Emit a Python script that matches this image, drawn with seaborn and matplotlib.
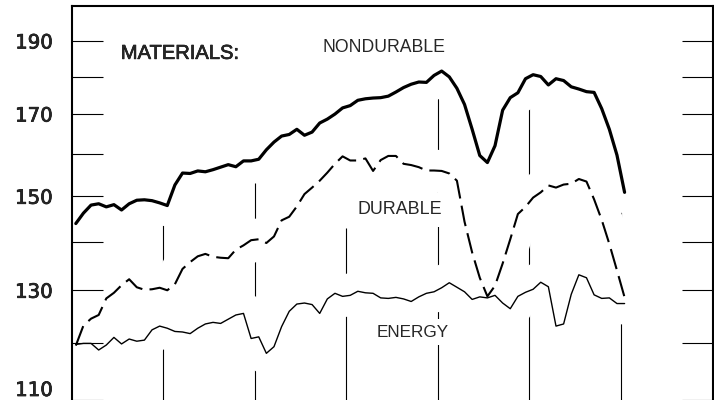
import numpy as np
import pandas as pd
import matplotlib
matplotlib.use("Agg")
import matplotlib.pyplot as plt
import matplotlib.patheffects as pe
from matplotlib.ticker import FixedLocator, NullFormatter
import seaborn as sns

# ---- data (monthly index values) ----
nondurable = [143.9, 146.2, 148.0, 148.3, 147.6, 148.1, 146.9, 148.3, 149.1, 149.2,
              149.0, 148.5, 147.9, 152.6, 155.4, 155.3, 155.9, 155.7, 156.2, 156.8,
              157.4, 156.9, 158.3, 158.3, 158.7, 161.0, 162.9, 164.4, 164.8, 166.1,
              164.6, 165.4, 167.7, 168.7, 170.0, 171.6, 172.2, 173.6, 174.0, 174.2,
              174.3, 174.7, 175.8, 177.0, 177.9, 178.5, 178.4, 180.3, 181.5, 179.9,
              176.8, 172.5, 166.1, 159.6, 157.9, 162.0, 171.0, 174.3, 175.6, 179.4,
              180.5, 180.0, 177.7, 179.4, 178.9, 177.2, 176.6, 175.9, 175.7, 171.4,
              166.1, 159.7, 150.9]
durable = [119.5, 123.2, 124.5, 125.2, 128.4, 129.5, 131.0, 132.2, 130.6, 130.1,
           130.2, 130.5, 130.0, 131.2, 134.3, 135.7, 136.9, 137.4, 136.8, 136.6,
           136.5, 138.3, 139.2, 140.3, 140.5, 139.7, 141.1, 144.6, 145.4, 147.7,
           150.5, 152.0, 153.6, 155.5, 157.6, 159.4, 158.4, 158.4, 158.9, 155.9,
           158.5, 159.5, 159.5, 157.6, 157.3, 156.8, 156.0, 156.0, 155.9, 155.3,
           153.6, 144.3, 137.7, 132.5, 128.8, 130.9, 135.4, 140.5, 146.0, 147.6,
           149.7, 150.9, 152.5, 152.0, 152.7, 152.9, 154.0, 153.4, 149.3, 144.7,
           139.5, 134.0, 128.6]
energy = [119.7, 119.9, 119.9, 118.7, 119.6, 121.0, 119.8, 120.7, 120.3, 120.5,
          122.4, 123.1, 122.7, 122.1, 122.0, 121.7, 122.7, 123.5, 123.8, 123.6,
          124.4, 125.2, 125.5, 120.8, 121.1, 118.1, 119.3, 123.0, 125.9, 127.3,
          127.5, 127.2, 125.5, 128.3, 129.4, 128.8, 129.0, 129.8, 129.5, 129.4,
          128.5, 128.4, 128.6, 128.3, 127.8, 128.7, 129.4, 129.7, 130.5, 131.5,
          130.6, 129.7, 128.2, 128.7, 128.5, 129.0, 127.5, 126.4, 128.8, 129.6,
          130.2, 131.6, 130.7, 123.1, 123.5, 129.2, 133.1, 132.5, 129.1, 128.4,
          128.5, 127.4, 127.4]
series_names = ["NONDURABLE", "DURABLE", "ENERGY"]
y_major = [110, 130, 150, 170, 190]
y_minor = [120, 140, 160, 180]
year_marks = [12, 24, 36, 48, 60, 72]
year_line_tops = [146, 153, 143, 175, 175, 148]

months = np.arange(len(nondurable)) + 0.5
df = pd.DataFrame({"month": months, "NONDURABLE": nondurable,
                   "DURABLE": durable, "ENERGY": energy})
long = df.melt("month", var_name="series", value_name="index")

sns.set_style("white")
plt.rcParams["font.family"] = ["Liberation Sans", "DejaVu Sans"]

fig = plt.figure(figsize=(7.14, 4.0), dpi=100)
ax = fig.add_axes([72 / 714, 0.0, 641 / 714, 394 / 400])
ax.set_yscale("log")

# year separators (drawn underneath; white halos carve the gaps)
ax.vlines(year_marks, 110, year_line_tops, color="black", lw=0.8, zorder=1)

# white halos around the curves
sns.lineplot(data=long, x="month", y="index", units="series", estimator=None,
             color="white", linewidth=30, ax=ax, zorder=1.5, legend=False)

# the three series
sns.lineplot(data=long, x="month", y="index", hue="series", style="series",
             size="series",
             palette={"NONDURABLE": "black", "DURABLE": "black", "ENERGY": "black"},
             dashes={"NONDURABLE": "", "DURABLE": (10, 3.5), "ENERGY": ""},
             sizes={"NONDURABLE": 2.3, "DURABLE": 1.5, "ENERGY": 1.0},
             estimator=None, legend=False, ax=ax, zorder=2)

ax.set_xlim(0, 84.1)
ax.set_ylim(110, 200.4)
ax.set_xticks([])
ax.set_xlabel("")
ax.set_ylabel("")

ax.yaxis.set_major_locator(FixedLocator(y_major))
ax.set_yticks(y_major, labels=[str(v) for v in y_major],
              fontfamily="DejaVu Sans", fontsize=14.2)
ax.yaxis.set_minor_locator(FixedLocator(y_minor))
ax.yaxis.set_minor_formatter(NullFormatter())
ax.tick_params(axis="y", which="both", direction="in", length=22, width=0.8,
               left=True, right=True, pad=14.0, color="black")
for lbl in ax.get_yticklabels():
    lbl.set_path_effects([pe.withStroke(linewidth=0.5, foreground="black")])
    if lbl.get_text() == "110":
        lbl.set_va("bottom")
ax.set_axisbelow(False)

for side in ("left", "top", "right"):
    ax.spines[side].set_visible(True)
    ax.spines[side].set_linewidth(1.5)
    ax.spines[side].set_color("black")
ax.spines["bottom"].set_visible(False)

ax.text(6.4, 184.9, "MATERIALS:", fontsize=14.5, ha="left", va="baseline",
        zorder=4, path_effects=[pe.withStroke(linewidth=0.45, foreground="black")])
ax.text(32.9, 186.9, "NONDURABLE", fontsize=12.7, ha="left", va="baseline", zorder=4)
ax.text(37.4, 145.9, "DURABLE", fontsize=12.9, ha="left", va="baseline", zorder=4,
        bbox=dict(facecolor="white", edgecolor="none", pad=6))
ax.text(40.0, 121.1, "ENERGY", fontsize=12.3, ha="left", va="baseline", zorder=4,
        bbox=dict(facecolor="white", edgecolor="none", pad=4))

fig.savefig("out.png", dpi=100)
